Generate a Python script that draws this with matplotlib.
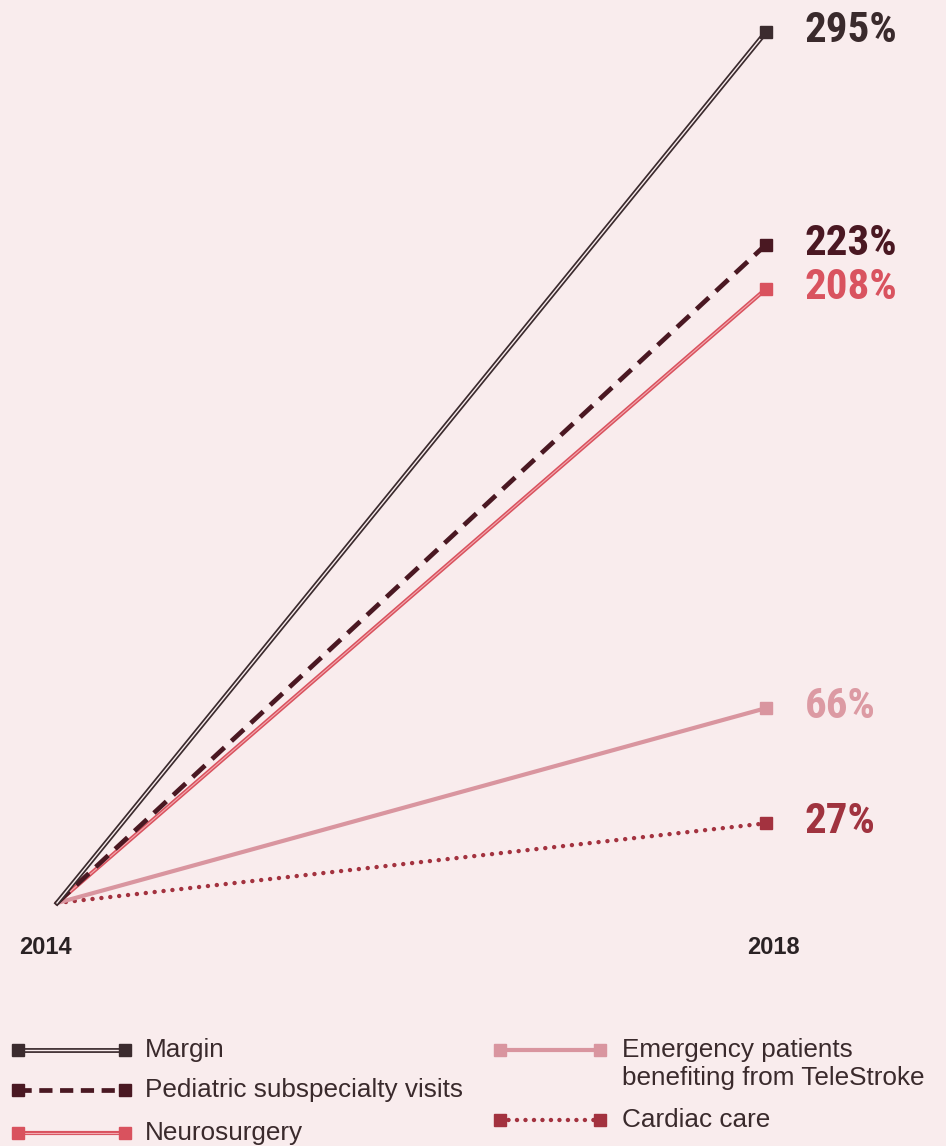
import matplotlib
matplotlib.use("Agg")
import matplotlib.pyplot as plt
from matplotlib import font_manager as fm

years = [2014, 2018]
series_names = ["Margin", "Pediatric subspecialty visits", "Neurosurgery",
                "Emergency patients\nbenefiting from TeleStroke", "Cardiac care"]
margin = [0, 295]
pediatric = [0, 223]
neuro = [0, 208]
emergency = [0, 66]
cardiac = [0, 27]
value_labels = ["295%", "223%", "208%", "66%", "27%"]

BG = "#f9eced"
C_MARGIN = "#3b2b2e"
C_PED = "#4a1822"
C_NEURO = "#d9525e"
C_NEURO_IN = "#f3a9b0"
C_EMER = "#d9959f"
C_CARD = "#a3323f"

# condensed bold face for the value labels
prefs = ["robotocondensed-bold", "archivonarrow-bold", "asapcondensed-bold",
         "liberationsansnarrow-bold", "dejavusanscondensed-bold"]
files = {f.fname.split("/")[-1].lower().rsplit(".", 1)[0]: f.fname
         for f in fm.fontManager.ttflist}
font_label_path = None
for p in prefs:
    if p in files:
        font_label_path = files[p]
        break

W, H = 946, 1146
fig = plt.figure(figsize=(W / 100, H / 100), dpi=100, facecolor=BG)

def fx(px):
    return px / W

def fy(py):
    return 1 - py / H

ax = fig.add_axes([fx(57), fy(903), fx(766) - fx(57), fy(32) - fy(903)])
ax.set_facecolor(BG)
ax.set_xlim(2014, 2018)
ax.set_ylim(0, 295)
ax.axis("off")

ms = 9
ax.plot(years, cardiac, color=C_CARD, lw=3.2, linestyle=(0, (0.01, 2.0)),
        dash_capstyle="round", clip_on=False, zorder=2)
ax.plot(years, emergency, color=C_EMER, lw=3.0, clip_on=False, zorder=2)
ax.plot(years, neuro, color=C_NEURO, lw=3.0, clip_on=False, zorder=3)
ax.plot(years, neuro, color=C_NEURO_IN, lw=0.8, clip_on=False, zorder=3)
ax.plot(years, pediatric, color=C_PED, lw=3.4, linestyle=(0, (3.6, 2.0)),
        clip_on=False, zorder=4)
ax.plot(years, margin, color=C_MARGIN, lw=3.5, clip_on=False, zorder=5)
ax.plot(years, margin, color=BG, lw=1.0, clip_on=False, zorder=5)

end_colors = [C_MARGIN, C_PED, C_NEURO, C_EMER, C_CARD]
label_colors = ["#3a2a2c", "#4a1822", "#d9535f", "#dc9aa3", "#a0333f"]
all_series = [margin, pediatric, neuro, emergency, cardiac]
for s, c, lc, lab in zip(all_series, end_colors, label_colors, value_labels):
    ax.plot([years[1]], [s[1]], marker="s", ms=ms, color=c, mec=c,
            clip_on=False, zorder=6, linestyle="none")
    if font_label_path:
        kw = dict(fontproperties=fm.FontProperties(fname=font_label_path, size=31))
    else:
        kw = dict(fontsize=26, fontweight="bold")
    ax.annotate(lab, xy=(years[1], s[1]), xytext=(28, 1), textcoords="offset points",
                ha="left", va="center", color=lc, annotation_clip=False, **kw)

for yr, px in zip(years, [45, 773]):
    fig.text(fx(px), fy(948), str(yr), ha="center", va="center", fontsize=17,
             fontweight="bold", color="#2a2224", family=["Liberation Sans", "DejaVu Sans"])

lax = fig.add_axes([0, 0, 1, 1])
lax.set_xlim(0, W)
lax.set_ylim(H, 0)
lax.axis("off")
lax.patch.set_alpha(0)

def handle(ax_, x0, x1, y, kind):
    xs = [x0, x1]
    ys = [y, y]
    if kind == "margin":
        ax_.plot(xs, ys, color=C_MARGIN, lw=3.5)
        ax_.plot(xs, ys, color=BG, lw=1.0)
        c = C_MARGIN
    elif kind == "ped":
        ax_.plot(xs, ys, color=C_PED, lw=3.4, linestyle=(0, (2.8, 1.6)))
        c = C_PED
    elif kind == "neuro":
        ax_.plot(xs, ys, color=C_NEURO, lw=3.0)
        ax_.plot(xs, ys, color=C_NEURO_IN, lw=0.8)
        c = C_NEURO
    elif kind == "emer":
        ax_.plot(xs, ys, color=C_EMER, lw=3.0)
        c = C_EMER
    else:
        ax_.plot(xs, ys, color=C_CARD, lw=3.2, linestyle=(0, (0.01, 1.9)),
                 dash_capstyle="round")
        c = C_CARD
    ax_.plot(xs, ys, marker="s", ms=ms, color=c, linestyle="none")

kinds = ["margin", "ped", "neuro", "emer", "card"]
pos = [(18, 125, 1050, 145), (18, 125, 1090, 145), (18, 125, 1133, 145),
       (500, 600, 1050, 622), (500, 600, 1120, 622)]
for name, kind, (x0, x1, y, tx) in zip(series_names, kinds, pos):
    handle(lax, x0, x1, y, kind)
    lax.text(tx, y - 12, name, ha="left", va="top", fontsize=18.8, color="#3a2a2c",
             family=["Liberation Sans", "DejaVu Sans"], linespacing=1.2)

fig.savefig("out.png", dpi=100, facecolor=BG)
